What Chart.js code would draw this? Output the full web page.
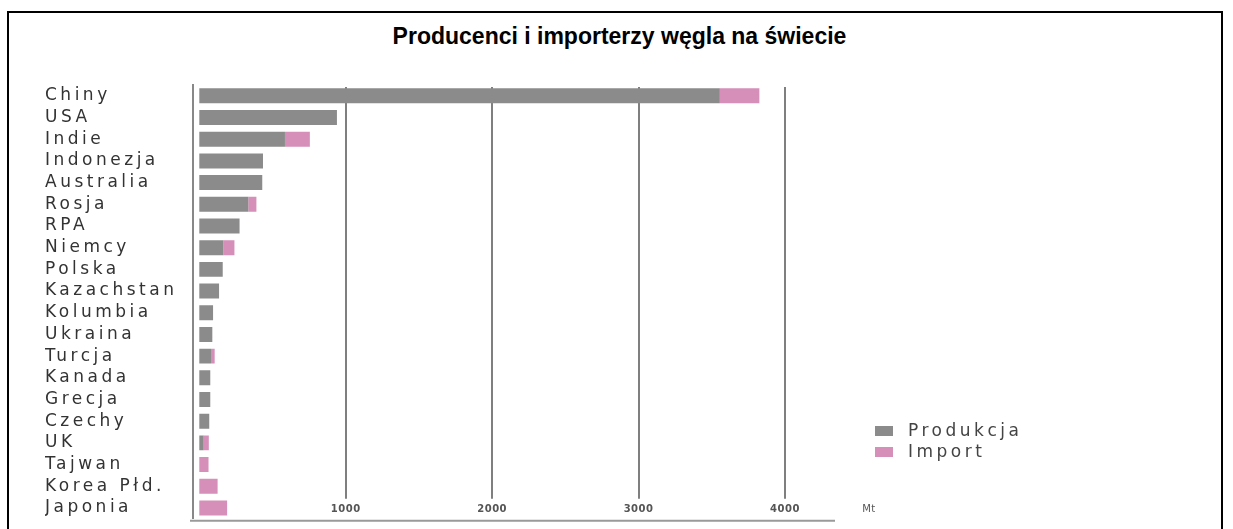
<!DOCTYPE html>
<html>
<head>
<meta charset="utf-8">
<script src="https://cdn.jsdelivr.net/npm/chart.js@4.4.1/dist/chart.umd.min.js"></script>
<style>
  html, body { margin: 0; padding: 0; background: #fff; }
  body { width: 1233px; height: 529px; position: relative; overflow: hidden; }
  #frame { position: absolute; left: 7px; top: 11px; width: 1216px; height: 600px; border: 2px solid #000; box-sizing: border-box; }
  #title { position: absolute; left: 0; top: 22px; width: 1239px; text-align: center; font: bold 23px "Liberation Sans", Arial, sans-serif; color: #000; line-height: 28px; }
  #wrap { position: absolute; left: 0; top: 0; width: 1233px; height: 529px; }
</style>
</head>
<body>
<div id="frame"></div>
<div id="title">Producenci i importerzy węgla na świecie</div>
<div id="wrap"><canvas id="c" width="1233" height="529"></canvas></div>
<script>
const categories = ['Chiny','USA','Indie','Indonezja','Australia','Rosja','RPA','Niemcy','Polska','Kazachstan','Kolumbia','Ukraina','Turcja','Kanada','Grecja','Czechy','UK','Tajwan','Korea Płd.','Japonia'];
const produkcja = [3555, 940, 585, 435, 430, 335, 275, 165, 160, 135, 94, 89, 80, 75, 75, 68, 30, 0, 0, 0];
const importData = [270, 0, 170, 0, 0, 55, 0, 75, 0, 0, 0, 0, 25, 0, 0, 0, 35, 63, 125, 190];
const xTicks = [1000, 2000, 3000, 4000];
const xTickLabels = ['1000', '2000', '3000', '4000'];
const unitLabel = 'Mt';
const seriesNames = ['Produkcja', 'Import'];
const seriesColors = ['#8b8b8b', '#d68fb8'];

const overlay = {
  id: 'overlay',
  beforeDraw(chart) { chart.ctx.letterSpacing = '3.5px'; },
  beforeDatasetsDraw(chart) {
    const ctx = chart.ctx, x = chart.scales.x, a = chart.chartArea;
    ctx.letterSpacing = '0px';
    ctx.save();
    ctx.strokeStyle = '#7f7f7f';
    ctx.lineWidth = 2;
    xTicks.forEach(v => {
      const px = Math.round(x.getPixelForValue(v));
      ctx.beginPath();
      ctx.moveTo(px, a.top + 2);
      ctx.lineTo(px, a.bottom - 20);
      ctx.stroke();
    });
    ctx.restore();
  },
  afterDraw(chart) {
    const ctx = chart.ctx, x = chart.scales.x, a = chart.chartArea;
    ctx.save();
    ctx.strokeStyle = '#9a9a9a';
    ctx.lineWidth = 2;
    ctx.beginPath();
    ctx.moveTo(a.left - 3, a.bottom + 2);
    ctx.lineTo(835, a.bottom + 2);
    ctx.stroke();
    ctx.letterSpacing = '0.5px';
    ctx.font = 'bold 10px "DejaVu Sans"';
    ctx.fillStyle = '#555';
    ctx.textAlign = 'center';
    ctx.textBaseline = 'middle';
    xTicks.forEach((v, i) => ctx.fillText(xTickLabels[i], x.getPixelForValue(v), a.bottom - 9));
    ctx.font = '10px "DejaVu Sans"';
    ctx.fillText(unitLabel, 869, a.bottom - 9);
    ctx.letterSpacing = '3.5px';
    ctx.font = '17px "DejaVu Sans"';
    ctx.textAlign = 'left';
    chart.data.datasets.forEach((ds, i) => {
      const cy = 431 + i * 21;
      ctx.fillStyle = ds.backgroundColor;
      ctx.fillRect(875, cy - 5, 18, 10);
      ctx.fillStyle = '#444';
      ctx.fillText(ds.label, 908, cy + 1);
    });
    ctx.letterSpacing = '0px';
    ctx.restore();
  }
};

Chart.defaults.font.family = '"DejaVu Sans", sans-serif';
new Chart(document.getElementById('c'), {
  type: 'bar',
  data: {
    labels: categories,
    datasets: [
      { label: seriesNames[0], data: produkcja, backgroundColor: seriesColors[0] },
      { label: seriesNames[1], data: importData, backgroundColor: seriesColors[1] }
    ]
  },
  options: {
    indexAxis: 'y',
    responsive: false,
    animation: false,
    events: [],
    layout: { padding: { top: 85, bottom: 8, left: 45, right: 448 } },
    datasets: { bar: { categoryPercentage: 1, barPercentage: 0.69 } },
    plugins: { legend: { display: false }, title: { display: false }, tooltip: { enabled: false } },
    scales: {
      x: { display: false, stacked: true, min: -43, max: 4000 },
      y: {
        stacked: true,
        grid: { display: false },
        border: { display: true, color: '#888', width: 2 },
        ticks: { autoSkip: false, crossAlign: 'far', color: '#333', font: { size: 17 }, padding: 0 },
        afterFit(s) { s.width = 148; }
      }
    }
  },
  plugins: [overlay]
});
</script>
</body>
</html>
